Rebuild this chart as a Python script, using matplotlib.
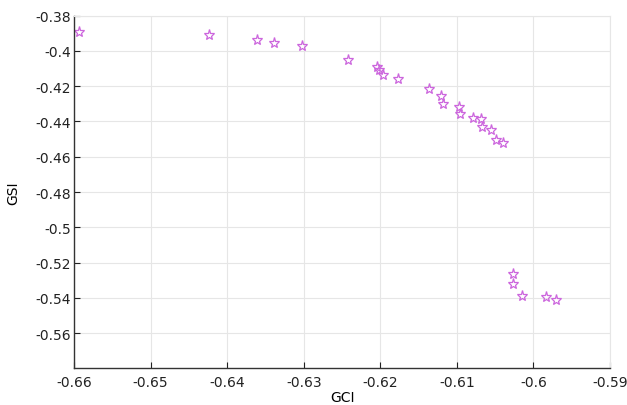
import numpy as np
import matplotlib
matplotlib.use('Agg')
import matplotlib.pyplot as plt

plt.rcParams['font.family'] = ['DejaVu Sans']

# GCI / GSI pairs
gci = [-0.6593, -0.6424, -0.6361, -0.6339, -0.6302, -0.6242, -0.6204, -0.6202,
       -0.6196, -0.6177, -0.6136, -0.6121, -0.6118, -0.6097, -0.6096, -0.6079,
       -0.6068, -0.6067, -0.6055, -0.6049, -0.6040, -0.6027, -0.6027, -0.6015,
       -0.5984, -0.5971]
gsi = [-0.3892, -0.3909, -0.3938, -0.3955, -0.3972, -0.4051, -0.4091, -0.4108,
       -0.4136, -0.4159, -0.4215, -0.4255, -0.4300, -0.4317, -0.4357, -0.4380,
       -0.4385, -0.4431, -0.4448, -0.4504, -0.4521, -0.5263, -0.5321, -0.5388,
       -0.5394, -0.5411]

xticks = [-0.66, -0.65, -0.64, -0.63, -0.62, -0.61, -0.60, -0.59]
xticklabels = ['-0.66', '-0.65', '-0.64', '-0.63', '-0.62', '-0.61', '-0.6', '-0.59']
yticks = [-0.56, -0.54, -0.52, -0.50, -0.48, -0.46, -0.44, -0.42, -0.40, -0.38]
yticklabels = ['-0.56', '-0.54', '-0.52', '-0.5', '-0.48', '-0.46', '-0.44', '-0.42', '-0.4', '-0.38']

fig = plt.figure(figsize=(6.27, 4.06), dpi=100)
ax = fig.add_axes([0.118, 0.09, 0.855, 0.869])

ax.plot(gci, gsi, linestyle='none', marker='*', markersize=8,
        markerfacecolor='none', markeredgecolor='#cc66dd', markeredgewidth=0.9)

ax.set_xlim(-0.66, -0.59)
ax.set_ylim(-0.58, -0.38)
ax.set_xticks(xticks)
ax.set_xticklabels(xticklabels)
ax.set_yticks(yticks)
ax.set_yticklabels(yticklabels)
ax.tick_params(direction='in', length=4, width=0.8, labelsize=10, colors='#222222')
ax.tick_params(axis='x', pad=5)
ax.tick_params(axis='y', pad=2)

ax.grid(True, color='#e6e6e6', linewidth=0.8)
ax.set_axisbelow(True)
for side in ['top', 'right']:
    ax.spines[side].set_color('#e6e6e6')
for side in ['left', 'bottom']:
    ax.spines[side].set_color('#333333')
    ax.spines[side].set_linewidth(1.0)

ax.set_xlabel('GCI', fontsize=10)
ax.set_ylabel('GSI', fontsize=10)
ax.xaxis.set_label_coords(0.5, -0.062)
ax.yaxis.set_label_coords(-0.1, 0.5)

fig.savefig('out.png', dpi=100)
